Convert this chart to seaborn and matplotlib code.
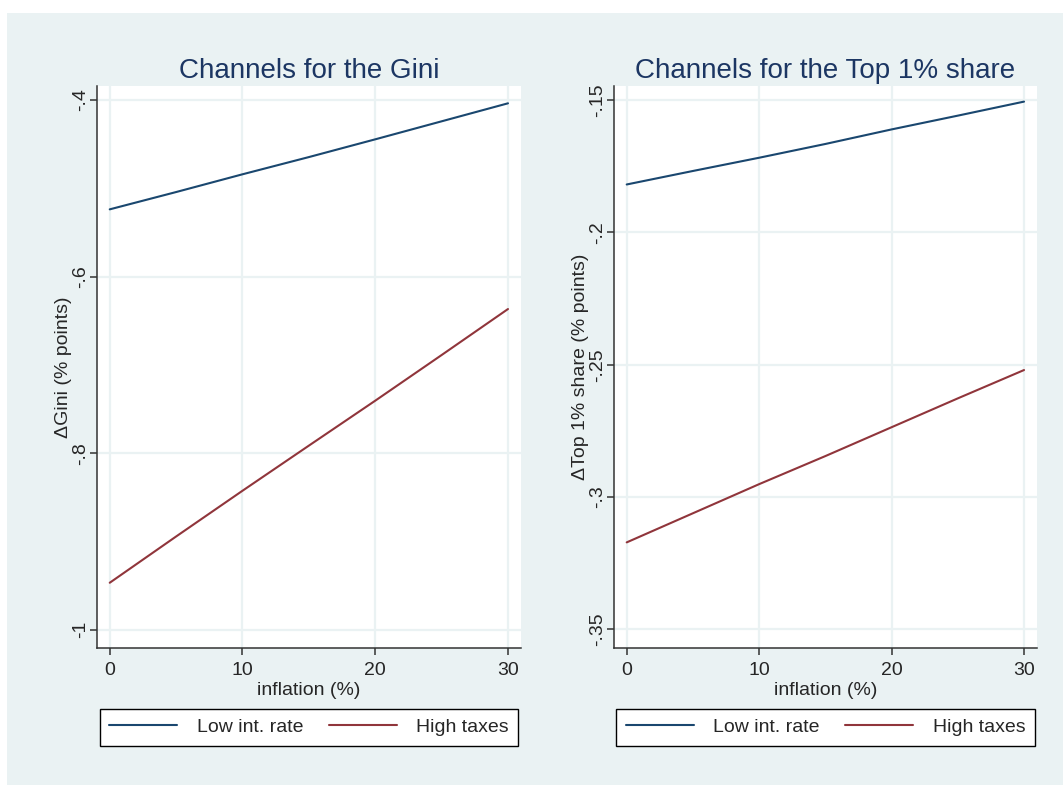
import numpy as np
import pandas as pd
import matplotlib
matplotlib.use('Agg')
import matplotlib.pyplot as plt
import seaborn as sns
from matplotlib.patches import Rectangle

# valores
inflation = [0, 5, 10, 15, 20, 25, 30]
gini_low_rate = [-0.5238, -0.5042, -0.4841, -0.4646, -0.4445, -0.4241, -0.4037]
gini_high_tax = [-0.9467, -0.8943, -0.8425, -0.7914, -0.7405, -0.6888, -0.6367]
top1_low_rate = [-0.1819, -0.1768, -0.1718, -0.1666, -0.1611, -0.1559, -0.1506]
top1_high_tax = [-0.3171, -0.3061, -0.2951, -0.2845, -0.2736, -0.2627, -0.2520]

series = ['Low int. rate', 'High taxes']
gini_ticks = [-1, -0.8, -0.6, -0.4]
gini_labels = ['-1', '-.8', '-.6', '-.4']
top1_ticks = [-0.35, -0.3, -0.25, -0.2, -0.15]
top1_labels = ['-.35', '-.3', '-.25', '-.2', '-.15']
x_ticks = [0, 10, 20, 30]

cores = {'Low int. rate': '#1a476f', 'High taxes': '#90353b'}
fundo = '#eaf2f3'

sns.set_style('white')
plt.rcParams['font.family'] = ['Liberation Sans', 'DejaVu Sans']

df_gini = pd.DataFrame({
    'inflation': inflation * 2,
    'valor': gini_low_rate + gini_high_tax,
    'serie': [series[0]] * len(inflation) + [series[1]] * len(inflation),
})
df_top1 = pd.DataFrame({
    'inflation': inflation * 2,
    'valor': top1_low_rate + top1_high_tax,
    'serie': [series[0]] * len(inflation) + [series[1]] * len(inflation),
})

fig = plt.figure(figsize=(10.63, 7.85), dpi=100, facecolor='white')
# fundo azul-acinzentado estilo Stata
fig.patches.append(Rectangle((7 / 1063, 0), 1, 1 - 13 / 785, transform=fig.transFigure,
                             facecolor=fundo, edgecolor='none', zorder=-10))

ax1 = fig.add_axes([97 / 1063, 137 / 785, 424 / 1063, 562 / 785])
ax2 = fig.add_axes([614 / 1063, 137 / 785, 423 / 1063, 562 / 785])

paineis = [
    (ax1, df_gini, 'Channels for the Gini', '\u0394Gini (% points)', gini_ticks, gini_labels, (-1.0206, -0.3841)),
    (ax2, df_top1, 'Channels for the Top 1% share', '\u0394Top 1% share (% points)', top1_ticks, top1_labels, (-0.357, -0.1447)),
]

for ax, df, titulo, ylab, yt, ytl, ylim in paineis:
    ax.set_facecolor('white')
    sns.lineplot(data=df, x='inflation', y='valor', hue='serie', palette=cores,
                 linewidth=1.5, ax=ax, zorder=3)
    ax.set_xlim(-0.96, 30.98)
    ax.set_ylim(*ylim)
    ax.set_xticks(x_ticks)
    ax.set_xticklabels([str(t) for t in x_ticks])
    ax.set_yticks(yt)
    ax.set_yticklabels(ytl, rotation=90, va='center')
    ax.grid(True, color=fundo, linewidth=1.6)
    ax.set_axisbelow(True)
    for lado in ['top', 'right']:
        ax.spines[lado].set_visible(False)
    for lado in ['left', 'bottom']:
        ax.spines[lado].set_color('#333333')
        ax.spines[lado].set_linewidth(1.1)
    ax.tick_params(axis='both', direction='out', length=5, width=1.1, color='#333333',
                   labelsize=14, bottom=True, left=True)
    ax.tick_params(axis='x', pad=5)
    ax.tick_params(axis='y', pad=1)
    ax.set_xlabel('inflation (%)', fontsize=14, labelpad=2)
    ax.set_ylabel(ylab, fontsize=14, labelpad=0)
    ax.set_title(titulo, fontsize=20, color='#1c3663', pad=6)
    leg = ax.legend(loc='upper center', bbox_to_anchor=(0.5, -0.108), ncol=2, fontsize=14,
                    frameon=True, fancybox=False, edgecolor='black', handlelength=3.5,
                    handletextpad=1.0, columnspacing=1.3, borderpad=0.5, borderaxespad=0,
                    title=None)
    leg.get_frame().set_linewidth(1.0)
    leg.get_frame().set_facecolor('white')
    leg.get_frame().set_alpha(1)

fig.savefig('out.png', dpi=100, facecolor='white')
